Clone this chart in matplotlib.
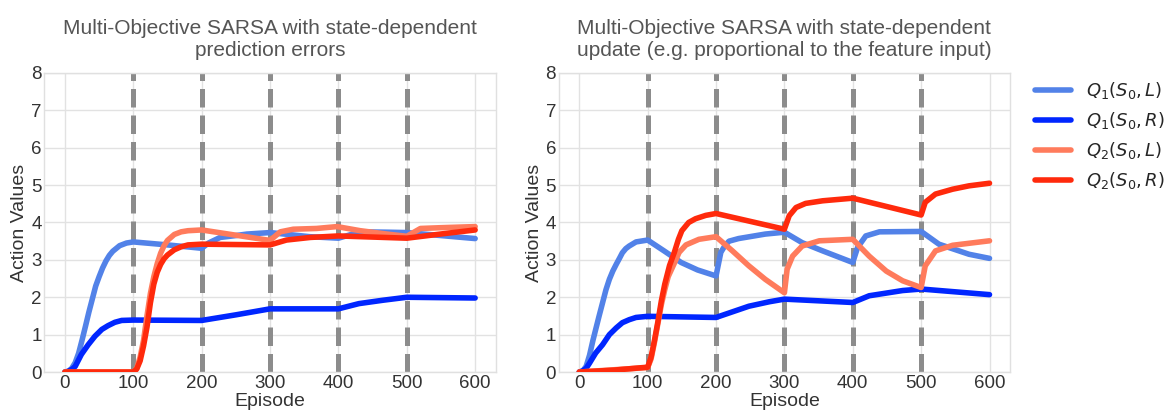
import matplotlib
matplotlib.use("Agg")
import matplotlib.pyplot as plt

plt.style.use("seaborn-v0_8-whitegrid")
plt.rcParams["font.family"] = ["Liberation Sans", "DejaVu Sans"]

# task switches every 100 episodes
switch_eps = [100, 200, 300, 400, 500]

labels = [r"$Q_1(S_0,L)$", r"$Q_1(S_0,R)$", r"$Q_2(S_0,L)$", r"$Q_2(S_0,R)$"]
colors = ["#5282e8", "#0026ff", "#ff7b5c", "#ff2a0c"]

# --- state-dependent prediction errors ---
L_q1L_ep = [0, 5, 10, 15, 20, 25, 30, 35, 40, 45, 50, 55, 60, 65, 70, 80, 90, 100,
            150, 200, 210, 227, 250, 266, 300, 358, 400, 432, 471, 500, 550, 600]
L_q1L = [0, 0.02, 0.1, 0.25, 0.5, 0.85, 1.22, 1.6, 1.95, 2.3, 2.55, 2.78, 2.97, 3.12,
         3.23, 3.38, 3.45, 3.48, 3.4, 3.31, 3.45, 3.6, 3.65, 3.69, 3.73, 3.62, 3.58,
         3.75, 3.74, 3.73, 3.65, 3.57]

L_q1R_ep = [0, 5, 10, 15, 24, 34, 44, 54, 63, 73, 83, 100, 200, 250, 300, 400, 430,
            465, 500, 600]
L_q1R = [0, 0.02, 0.07, 0.15, 0.47, 0.73, 0.96, 1.14, 1.24, 1.33, 1.38, 1.39, 1.38,
         1.53, 1.69, 1.69, 1.83, 1.92, 2.0, 1.98]

L_q2L_ep = [0, 100, 105, 110, 115, 120, 125, 130, 135, 140, 145, 150, 160, 170, 180,
            200, 300, 315, 334, 368, 398, 432, 471, 500, 520, 549, 600]
L_q2L = [0, 0, 0.1, 0.4, 0.85, 1.5, 2.1, 2.55, 2.9, 3.18, 3.38, 3.52, 3.68, 3.75,
         3.78, 3.8, 3.52, 3.75, 3.82, 3.84, 3.89, 3.78, 3.69, 3.63, 3.84, 3.86, 3.89]

L_q2R_ep = [0, 100, 105, 110, 115, 120, 125, 130, 135, 140, 145, 150, 160, 170, 180,
            190, 200, 300, 324, 359, 400, 500, 549, 600]
L_q2R = [0, 0, 0.08, 0.3, 0.7, 1.2, 1.85, 2.35, 2.67, 2.88, 3.03, 3.13, 3.27, 3.35,
         3.4, 3.41, 3.42, 3.4, 3.53, 3.6, 3.64, 3.58, 3.69, 3.8]

# --- state-dependent update ---
R_q1L_ep = [0, 5, 10, 15, 20, 24, 29, 34, 39, 44, 49, 54, 59, 63, 68, 73, 83, 100,
            124, 149, 173, 200, 207, 213, 219, 233, 272, 300, 326, 356, 400, 407,
            419, 439, 500, 526, 570, 600]
R_q1L = [0, 0.03, 0.15, 0.45, 0.85, 1.14, 1.5, 1.85, 2.2, 2.48, 2.7, 2.88, 3.05,
         3.19, 3.3, 3.37, 3.48, 3.53, 3.24, 2.93, 2.73, 2.57, 3.2, 3.38, 3.5, 3.57,
         3.69, 3.74, 3.46, 3.24, 2.93, 3.33, 3.64, 3.75, 3.76, 3.42, 3.15, 3.04]

R_q1R_ep = [0, 5, 10, 15, 24, 34, 44, 54, 63, 73, 83, 100, 200, 248, 278, 300, 400,
            424, 473, 500, 600]
R_q1R = [0, 0.03, 0.1, 0.24, 0.51, 0.73, 1.0, 1.18, 1.32, 1.4, 1.46, 1.49, 1.46,
         1.76, 1.88, 1.95, 1.86, 2.04, 2.18, 2.22, 2.07]

R_q2L_ep = [0, 100, 105, 110, 115, 120, 125, 130, 135, 140, 146, 156, 175, 200, 224,
            248, 272, 300, 304, 312, 326, 351, 400, 424, 449, 473, 500, 506, 521,
            546, 600]
R_q2L = [0, 0.12, 0.35, 0.8, 1.3, 1.8, 2.2, 2.55, 2.75, 2.95, 3.2, 3.4, 3.55, 3.62,
         3.24, 2.84, 2.48, 2.12, 2.75, 3.1, 3.37, 3.51, 3.55, 3.1, 2.7, 2.44, 2.26,
         2.84, 3.24, 3.39, 3.51]

R_q2R_ep = [0, 50, 100, 105, 110, 115, 120, 125, 132, 139, 145, 150, 160, 170, 185,
            200, 300, 307, 317, 331, 356, 400, 500, 506, 521, 546, 570, 600]
R_q2R = [0, 0.05, 0.13, 0.4, 0.85, 1.35, 1.9, 2.35, 2.85, 3.2, 3.55, 3.78, 4.0, 4.1,
         4.19, 4.24, 3.82, 4.18, 4.4, 4.51, 4.58, 4.65, 4.2, 4.54, 4.76, 4.89, 4.98,
         5.05]

panels = [
    ("Multi-Objective SARSA with state-dependent\nprediction errors",
     [(L_q1L_ep, L_q1L), (L_q1R_ep, L_q1R), (L_q2L_ep, L_q2L), (L_q2R_ep, L_q2R)]),
    ("Multi-Objective SARSA with state-dependent\nupdate (e.g. proportional to the feature input)",
     [(R_q1L_ep, R_q1L), (R_q1R_ep, R_q1R), (R_q2L_ep, R_q2L), (R_q2R_ep, R_q2R)]),
]

fig = plt.figure(figsize=(11.69, 4.12), dpi=100)
ax1 = fig.add_axes([0.038, 0.097, 0.386, 0.726])
ax2 = fig.add_axes([0.478, 0.097, 0.386, 0.726])

for ax, (title, series) in zip([ax1, ax2], panels):
    for x in switch_eps:
        ax.axvline(x, color="#8c8c8c", lw=3.6, ls="--", zorder=2)
    for (ep, val), lab, c in zip(series, labels, colors):
        ax.plot(ep, val, color=c, lw=4, label=lab, zorder=3,
                solid_capstyle="round", solid_joinstyle="round")
    ax.set_xlim(-30, 630)
    ax.set_ylim(0, 8)
    ax.set_xticks([0, 100, 200, 300, 400, 500, 600])
    ax.set_yticks(range(9))
    ax.tick_params(labelsize=13.5, colors="#333333", pad=2)
    ax.set_xlabel("Episode", fontsize=14, color="#333333", labelpad=1)
    ax.set_ylabel("Action Values", fontsize=14, color="#333333", labelpad=2)
    ax.set_title(title, fontsize=15, color="#555555", pad=12)
    ax.grid(color="#e2e2e2", lw=1)
    for sp in ax.spines.values():
        sp.set_visible(True)
        sp.set_color("#e0e0e0")
        sp.set_linewidth(1)

ax2.legend(loc="upper left", bbox_to_anchor=(1.04, 1.0), fontsize=13,
           frameon=False, handlelength=2.0, handletextpad=0.8, labelspacing=0.5,
           borderaxespad=0.0)

fig.savefig("out.png", dpi=100)
